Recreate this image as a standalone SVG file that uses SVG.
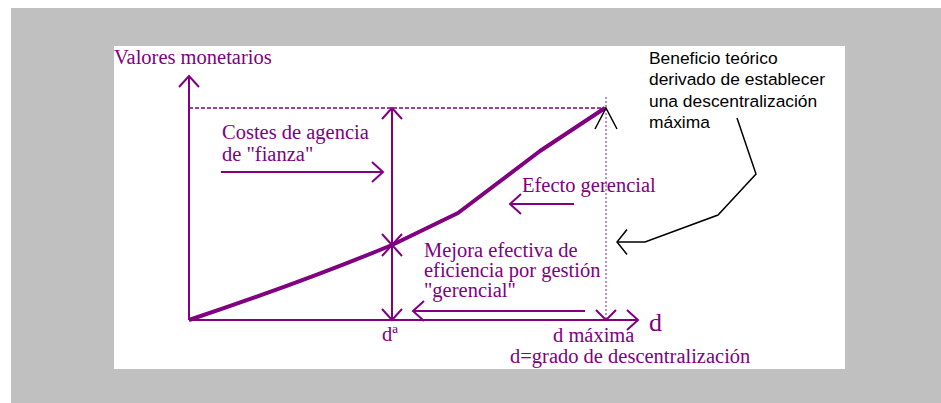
<svg xmlns="http://www.w3.org/2000/svg" width="941" height="403" viewBox="0 0 941 403">
  <defs>
    <style>
      .lbl { font-family: "Liberation Serif", "Times New Roman", serif; font-size: 20.5px; fill: #800080; }
      .note { font-family: "Liberation Sans", Arial, sans-serif; font-size: 17.4px; fill: #000000; }
      .ax { stroke: #800080; stroke-width: 2; fill: none; }
      .blk { stroke: #000000; stroke-width: 1.5; fill: none; }
    </style>
    <marker id="pArrow" viewBox="-13 -13 26 26" refX="0" refY="0" markerWidth="26" markerHeight="26" markerUnits="userSpaceOnUse" orient="auto-start-reverse" overflow="visible">
      <path d="M -11 -10 L 0 0 L -11 10" stroke="#800080" stroke-width="2" fill="none"/>
    </marker>
    <marker id="kArrow" viewBox="-15 -15 30 30" refX="0" refY="0" markerWidth="30" markerHeight="30" markerUnits="userSpaceOnUse" orient="auto" overflow="visible">
      <path d="M -10 -12.5 L 0 0 L -10 12.5" stroke="#000000" stroke-width="1.5" fill="none"/>
    </marker>
  </defs>

  <rect x="11" y="8" width="930" height="395" fill="#c0c0c0"/>
  <rect x="114" y="46" width="731" height="323" fill="#ffffff"/>

  <g id="connectors">
    <line x1="189" y1="108" x2="606" y2="108" stroke="#800080" stroke-width="1.3" stroke-dasharray="4 2"/>
    <line x1="606" y1="97" x2="606" y2="320" stroke="#a040a0" stroke-width="1.2" stroke-dasharray="2 2"/>
    <path id="y-axis" class="ax" d="M189,320 L189,76" marker-end="url(#pArrow)"/>
    <path id="x-axis" class="ax" d="M189,320 L638,320" marker-end="url(#pArrow)"/>
    <path class="ax" d="M392,245 L392,108" marker-start="url(#pArrow)" marker-end="url(#pArrow)"/>
    <path class="ax" d="M392,245 L392,320" marker-start="url(#pArrow)" marker-end="url(#pArrow)"/>
    <path class="ax" d="M596,310 L606,320 L616,310"/>
    <path class="ax" d="M221,172 L383,172" marker-end="url(#pArrow)"/>
    <path class="ax" d="M574,204 L510,204" marker-end="url(#pArrow)"/>
    <path class="ax" d="M585,311 L413,311" marker-end="url(#pArrow)"/>
    <path id="curve" d="M189,320 Q300,283 392,245 L458,213 L540,151 L605,108" stroke="#800080" stroke-width="4" fill="none" stroke-linejoin="round"/>
    <path class="blk" d="M595,129 L606,108 L617,129"/>
    <polyline class="blk" points="737,118 756,174 718,215 645,242 617,242" marker-end="url(#kArrow)"/>
  </g>

  <g id="y-label"><text class="lbl" x="114" y="64">Valores monetarios</text></g>
  <g id="costes">
    <text class="lbl" x="222" y="139">Costes de agencia</text>
    <text class="lbl" x="222" y="161">de "fianza"</text>
  </g>
  <g id="efecto"><text class="lbl" x="522" y="192">Efecto gerencial</text></g>
  <g id="mejora">
    <text class="lbl" x="424" y="257">Mejora efectiva de</text>
    <text class="lbl" x="424" y="277">eficiencia por gestión</text>
    <text class="lbl" x="424" y="297">"gerencial"</text>
  </g>
  <g id="da"><text class="lbl" x="382" y="341">dª</text></g>
  <g id="dmax"><text class="lbl" x="553" y="342">d máxima</text></g>
  <g id="dgrado"><text class="lbl" x="510" y="363">d=grado de descentralización</text></g>
  <g id="d-label"><text class="lbl" x="649" y="331" style="font-size:26px">d</text></g>
  <g id="beneficio">
    <text class="note" x="649" y="64">Beneficio teórico</text>
    <text class="note" x="649" y="85">derivado de establecer</text>
    <text class="note" x="649" y="106.5">una descentralización</text>
    <text class="note" x="649" y="128">máxima</text>
  </g>
</svg>
